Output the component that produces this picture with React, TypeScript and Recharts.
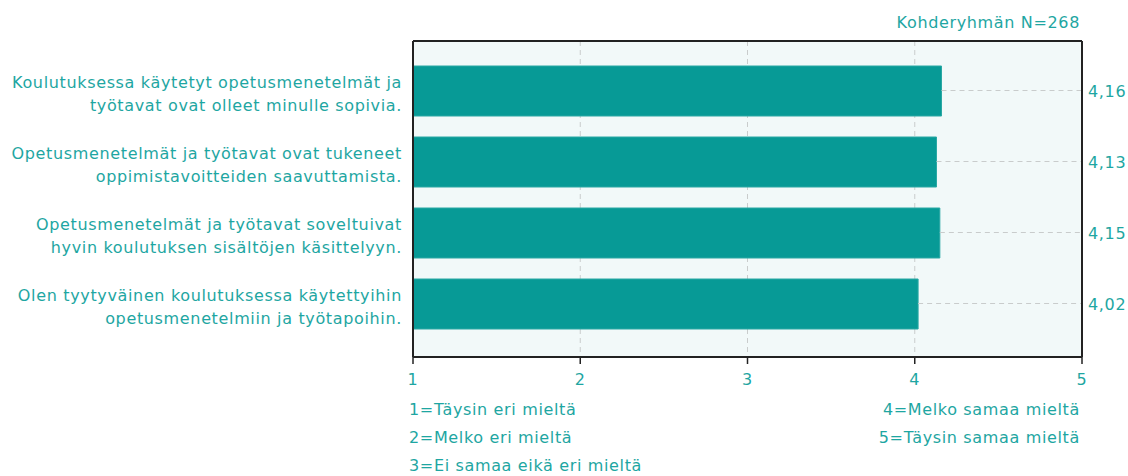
import { BarChart, Bar, XAxis, YAxis, CartesianGrid, ReferenceLine } from "recharts";

const questions = [
    "Koulutuksessa käytetyt opetusmenetelmät ja\ntyötavat ovat olleet minulle sopivia.",
    "Opetusmenetelmät ja työtavat ovat tukeneet\noppimistavoitteiden saavuttamista.",
    "Opetusmenetelmät ja työtavat soveltuivat\nhyvin koulutuksen sisältöjen käsittelyyn.",
    "Olen tyytyväinen koulutuksessa käytettyihin\nopetusmenetelmiin ja työtapoihin.",
];
const means = [4.16, 4.13, 4.15, 4.02];
const xTicks = [1, 2, 3, 4, 5];
const scaleLeft = ["1=Täysin eri mieltä", "2=Melko eri mieltä", "3=Ei samaa eikä eri mieltä"];
const scaleRight = ["4=Melko samaa mieltä", "5=Täysin samaa mieltä"];
const groupSize = "Kohderyhmän N=268";

const TEAL = "#1ea6a2";
const BAR = "#079a96";
const FRAME = { stroke: "#222", strokeWidth: 2 };
const FONT = '"DejaVu Sans", Verdana, sans-serif';

const data = questions.map((q, i) => ({ question: q, mean: means[i] }));

const fmt = (v: number) => v.toFixed(2).replace(".", ",");

// two-line category label, right aligned next to the plot
function QuestionTick(props: any) {
    const { x, y, payload } = props;
    const lines = String(payload.value).split("\n");
    return (
        <text x={x} y={y} textAnchor="end" fill={TEAL} fontSize={16}>
            {lines.map((line, i) => (
                <tspan key={i} x={x} dy={i === 0 ? -2.5 : 23}>{line}</tspan>
            ))}
        </text>
    );
}

function MeanTick(props: any) {
    const { x, y, index } = props;
    return (
        <text x={x} y={y} dy={6} textAnchor="start" fill={TEAL} fontSize={16}>
            {fmt(means[index])}
        </text>
    );
}

export default function App() {
    return (
        <div style={{ position: "absolute", left: 0, top: 0, width: 1128, height: 476, fontFamily: FONT, letterSpacing: "0.65px", background: "#fff" }}>
            <BarChart
                width={1128}
                height={476}
                data={data}
                layout="vertical"
                margin={{ top: 40, right: 0, bottom: 0, left: 0 }}
            >
                <CartesianGrid horizontal={false} stroke="#c9cccc" strokeDasharray="5 4" fill="#f2f9f9" />
                <XAxis
                    type="number"
                    dataKey="mean"
                    domain={[1, 5]}
                    ticks={xTicks}
                    height={119}
                    tickSize={7}
                    tickMargin={10}
                    axisLine={FRAME}
                    tickLine={{ stroke: "#222", strokeWidth: 1.5 }}
                    tick={{ fill: TEAL, fontSize: 16 }}
                    allowDataOverflow
                />
                {/* top edge of the frame */}
                <XAxis
                    xAxisId="top"
                    orientation="top"
                    type="number"
                    dataKey="mean"
                    domain={[1, 5]}
                    ticks={xTicks}
                    height={1}
                    axisLine={FRAME}
                    tickLine={false}
                    tick={false}
                    allowDataOverflow
                />
                <YAxis
                    type="category"
                    dataKey="question"
                    width={413}
                    axisLine={FRAME}
                    tickLine={false}
                    tickSize={6}
                    tickMargin={5}
                    padding={{ top: 14, bottom: 18 }}
                    tick={<QuestionTick />}
                    interval={0}
                />
                <YAxis
                    yAxisId="right"
                    orientation="right"
                    type="category"
                    dataKey="question"
                    width={46}
                    axisLine={FRAME}
                    tickLine={false}
                    tickSize={6}
                    tickMargin={0}
                    padding={{ top: 14, bottom: 18 }}
                    tick={<MeanTick />}
                    interval={0}
                />
                <Bar dataKey="mean" fill={BAR} stroke="#2aa8a4" strokeWidth={1} barSize={50} isAnimationActive={false} />
                {data.map((d) => (
                    <ReferenceLine
                        key={d.question}
                        segment={[{ x: d.mean, y: d.question }, { x: 5, y: d.question }]}
                        stroke="#c9cccc"
                        strokeDasharray="5 4"
                    />
                ))}
            </BarChart>
            <svg width={1128} height={476} style={{ position: "absolute", left: 0, top: 0, pointerEvents: "none" }}>
                <text x={1080} y={28} textAnchor="end" fill={TEAL} fontSize={16}>{groupSize}</text>
                {scaleLeft.map((s, i) => (
                    <text key={s} x={409} y={415 + i * 28} fill={TEAL} fontSize={16}>{s}</text>
                ))}
                {scaleRight.map((s, i) => (
                    <text key={s} x={1080} y={415 + i * 28} textAnchor="end" fill={TEAL} fontSize={16}>{s}</text>
                ))}
            </svg>
        </div>
    );
}
